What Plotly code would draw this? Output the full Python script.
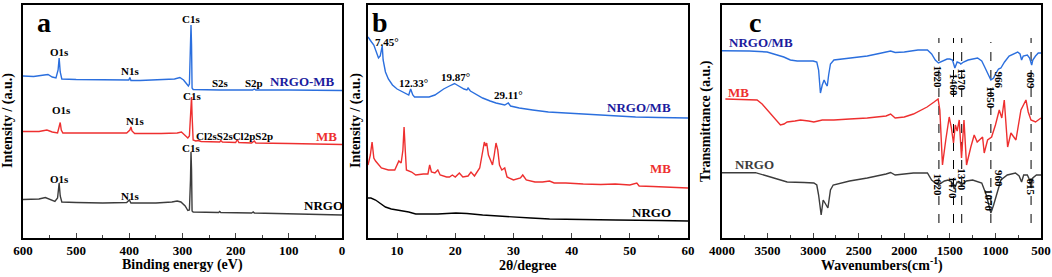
import plotly.graph_objects as go

# ---------------- Panel a: XPS survey ----------------
xps_ev_nrgomb = [600, 580, 560, 553, 545, 538, 534, 532, 530, 527, 500, 450, 410, 401, 399, 397, 380, 340, 315, 305, 298, 292, 289, 287, 285, 284, 283, 282, 280, 250, 230, 200, 168, 165, 162, 100, 0]
xps_int_nrgomb = [162, 161.5, 163, 163.5, 161, 160, 168, 180, 166, 159, 158.5, 158, 157.5, 158, 160.5, 157.5, 157.5, 158, 159, 160.5, 158, 154, 152, 154, 188, 213, 193, 150, 148.5, 148, 148, 148, 148, 149, 148, 148, 147.5]

xps_ev_mb = [600, 570, 555, 545, 535, 531, 530, 528, 525, 500, 450, 405, 399, 397, 395, 390, 340, 310, 302, 295, 290, 287, 285, 283, 282, 280, 275, 270, 265, 230, 228, 225, 200, 197, 194, 170, 165, 162, 100, 50, 0]
xps_int_mb = [106.5, 106.5, 108, 106, 105, 112, 115.5, 108, 105, 105, 105, 105, 108, 111, 107, 104.5, 104.5, 105, 106, 103, 100, 102, 128, 141, 123, 98, 97, 97.5, 96.5, 96, 97.5, 96, 95.5, 98.5, 95.5, 95, 97, 95, 94.5, 94, 93.5]

xps_ev_nrgo = [600, 570, 558, 550, 540, 535, 532, 530, 527, 500, 450, 405, 400, 397, 350, 320, 310, 303, 295, 290, 287, 285, 284, 283, 282, 280, 250, 232, 230, 228, 170, 167, 165, 100, 50, 0]
xps_int_nrgo = [38.5, 39, 40.5, 39, 36.5, 40, 55, 42, 36, 35.5, 35, 35.5, 38, 35, 35, 36, 37, 36, 32, 27.5, 28, 58, 86, 68, 27, 26, 25.5, 25.5, 26.5, 25.5, 25, 26, 25, 24, 23.5, 23]

xps_ticks = [600, 500, 400, 300, 200, 100, 0]

# ---------------- Panel b: XRD ----------------
xrd_deg_nrgomb = [5.0, 5.3, 5.6, 6.0, 6.4, 6.8, 7.1, 7.45, 7.6, 8.0, 8.5, 9.2, 10.0, 10.6, 11.5, 12.0, 12.33, 12.7, 13.0, 14.0, 15.5, 16.5, 17.2, 18.0, 19.0, 19.87, 20.3, 20.8, 21.5, 22.0, 22.2, 22.6, 23.5, 24.7, 26.0, 27.0, 28.5, 29.11, 29.5, 31, 33.3, 36, 39, 42, 45, 48, 51, 55, 60]
xrd_int_nrgomb = [201, 198, 196, 193, 186, 180, 182, 192, 178, 166, 159, 153, 149, 147, 144, 143, 149, 143, 141, 141, 141, 143, 146, 149, 152, 154.5, 153, 151, 149, 148, 150, 147, 144, 140, 137, 135, 133, 135, 132, 130, 128, 126, 125, 124, 123, 122, 121, 120.5, 120]

xrd_deg_mb = [5.0, 5.4, 5.7, 6.0, 6.3, 6.6, 7.3, 8.5, 9.6, 10.3, 10.7, 11.0, 11.2, 11.4, 11.6, 12.5, 13.2, 14.5, 15.3, 15.6, 15.9, 16.5, 17.0, 17.4, 18.5, 19.0, 19.5, 20.0, 20.7, 21.3, 22.2, 22.7, 23.3, 24.2, 24.8, 25.0, 25.2, 25.4, 25.7, 26.0, 26.4, 26.7, 27.0, 27.3, 27.6, 28.0, 28.5, 28.9, 30, 31.2, 31.6, 32.2, 33.7, 35, 36.2, 37, 39, 42, 45, 47.5, 50, 51.2, 51.6, 54, 57, 60]
xrd_int_mb = [73, 83, 96, 80, 77, 75, 70, 68, 68, 77, 75, 88, 111, 88, 68, 66, 63, 64, 64, 73, 66, 65, 68, 63, 61, 61, 63, 61, 65, 61, 62, 66, 62, 70, 88, 96, 92, 95, 83, 78, 73, 83, 95, 88, 73, 68, 70, 61, 58, 60, 63, 58, 56, 56, 57, 55, 55, 54, 53.5, 54, 53, 55, 52, 51.5, 51, 50]

xrd_deg_nrgo = [5.0, 5.5, 6.3, 7, 8.0, 9, 10.3, 12, 13.2, 15, 17, 20.1, 22, 24.7, 27, 30.4, 33, 36.2, 40, 47.6, 55, 60]
xrd_int_nrgo = [40, 40, 38, 35, 31, 29, 28, 26, 24, 24, 24, 25, 24.5, 23, 22, 21, 20, 19, 18.5, 18, 17.5, 17]

xrd_ticks = [10, 20, 30, 40, 50, 60]

# ---------------- Panel c: FTIR ----------------
ir_wn_nrgomb = [4000, 3700, 3505, 3420, 3322, 3250, 3175, 3000, 2960, 2940, 2920, 2900, 2880, 2860, 2845, 2830, 2810, 2772, 2600, 2406, 2250, 2160, 2150, 2100, 2000, 1850, 1746, 1700, 1660, 1625, 1580, 1530, 1500, 1471, 1445, 1420, 1390, 1380, 1350, 1300, 1196, 1150, 1123, 1080, 1050, 1020, 1000, 966, 940, 900, 850, 756, 730, 713, 695, 650, 625, 602, 590, 560, 530, 500]
ir_tr_nrgomb = [187.3, 187, 186, 184, 181, 178, 177, 177, 176, 168, 145, 153, 158, 154, 152, 163, 174, 178, 180, 182, 185, 186.5, 187, 185.5, 186, 188, 188, 184, 178, 175, 177, 179, 179, 178, 170, 176, 175, 174, 176, 178, 180, 177, 172, 163, 158, 160, 164, 169, 170, 176, 182, 186, 184, 178, 182, 183, 180, 173, 178, 182, 185, 185]

ir_wn_mb = [3963, 3700, 3615, 3560, 3505, 3420, 3359, 3320, 3285, 3200, 3139, 3050, 2992, 2900, 2772, 2600, 2406, 2200, 2150, 2100, 2000, 1900, 1856, 1750, 1673, 1629, 1610, 1581, 1545, 1507, 1485, 1460, 1440, 1420, 1397, 1372, 1345, 1317, 1270, 1233, 1200, 1141, 1123, 1086, 1042, 1000, 958, 930, 903, 866, 830, 775, 720, 665, 640, 610, 560, 530, 500]
ir_tr_mb = [139, 138, 138, 134, 128, 119, 113, 114, 116, 117, 118, 117, 116, 118, 118, 119, 120, 122, 124, 120, 121, 124, 126, 131, 136, 139, 128, 73, 98, 121, 111, 95, 113, 107, 118, 80, 118, 73, 91, 103, 96, 101, 85, 98, 101, 113, 128, 120, 138, 91, 105, 98, 128, 138, 126, 118, 116, 118, 120]

ir_wn_nrgo = [4000, 3633, 3505, 3400, 3285, 3100, 2992, 2960, 2940, 2912, 2890, 2870, 2838, 2810, 2780, 2600, 2406, 2200, 2150, 2100, 1900, 1746, 1700, 1660, 1625, 1560, 1520, 1480, 1452, 1420, 1390, 1370, 1320, 1250, 1150, 1100, 1060, 1050, 1020, 990, 940, 870, 780, 740, 713, 690, 650, 625, 610, 590, 550, 500]
ir_tr_nrgo = [65.3, 65.3, 62, 59, 56, 55.5, 55, 53, 43, 23, 38, 35, 30, 48, 53, 57, 60, 64, 65.5, 63, 65, 65, 58, 55, 53, 57, 58, 56, 49, 56, 55, 53, 57, 58, 55, 43, 28, 25, 33, 43, 58, 63, 65, 62, 56, 63, 63, 58, 50, 60, 63, 63]

ir_ticks = [4000, 3500, 3000, 2500, 2000, 1500, 1000, 500]
ir_marker_wn = [1620, 1460, 1370, 1050, 609]
ir_marker_top = [200, 200, 200, 196, 200]
ir_marker_bottom = 15
ir_labels_top = ["1620", "1460", "1370", "1050", "966", "609"]
ir_labels_top_wn = [1625, 1460, 1370, 1050, 966, 609]
ir_labels_top_y = [161, 153, 158, 140, 158, 158]
ir_labels_bot = ["1620", "1470", "1370", "1070", "960", "615"]
ir_labels_bot_wn = [1625, 1470, 1370, 1070, 960, 615]
ir_labels_bot_y = [53, 50, 58, 38, 60, 51]

BLUE = "#2b6fde"
NAVY = "#1c1c9e"
RED = "#ee2f2f"
GREY = "#3c3c3c"
FONT = "Liberation Serif"

fig = go.Figure()

def line(x, y, color, xa, ya, w=1.4):
    fig.add_trace(go.Scatter(x=x, y=y, mode="lines", line=dict(color=color, width=w),
                             xaxis=xa, yaxis=ya, showlegend=False, hoverinfo="skip"))

line(xps_ev_nrgomb, xps_int_nrgomb, BLUE, "x", "y")
line(xps_ev_mb, xps_int_mb, RED, "x", "y")
line(xps_ev_nrgo, xps_int_nrgo, GREY, "x", "y")

line(xrd_deg_nrgomb, xrd_int_nrgomb, BLUE, "x2", "y2")
line(xrd_deg_mb, xrd_int_mb, RED, "x2", "y2")
line(xrd_deg_nrgo, xrd_int_nrgo, "#000000", "x2", "y2")

for wn, top in zip(ir_marker_wn, ir_marker_top):
    fig.add_trace(go.Scatter(x=[wn, wn], y=[ir_marker_bottom, top], mode="lines",
                             line=dict(color="#000000", width=1, dash="dash"),
                             xaxis="x3", yaxis="y3", showlegend=False, hoverinfo="skip"))
line(ir_wn_nrgomb, ir_tr_nrgomb, BLUE, "x3", "y3")
line(ir_wn_mb, ir_tr_mb, RED, "x3", "y3")
line(ir_wn_nrgo, ir_tr_nrgo, GREY, "x3", "y3")

doms = [[23/1052, 342/1052], [368/1052, 688/1052], [722/1052, 1041/1052]]
ydom = [1 - 238/277, 1 - 5/277]

axis_common = dict(showline=True, linecolor="black", linewidth=1.5, mirror=True,
                   showgrid=False, zeroline=False, automargin=False)
tickfont = dict(family=FONT, size=13, color="black", weight="bold")

fig.update_layout(
    template="none",
    width=1052, height=277, margin=dict(l=0, r=0, t=0, b=0, autoexpand=False),
    paper_bgcolor="white", plot_bgcolor="white",
    xaxis=dict(domain=doms[0], range=[600, 0], tickvals=xps_ticks, ticks="inside", ticklen=5,
               minor=dict(ticks="inside", ticklen=3, dtick=50), tickfont=tickfont, anchor="y", **axis_common),
    yaxis=dict(domain=ydom, range=[0, 233], showticklabels=False, ticks="", anchor="x", **axis_common),
    xaxis2=dict(domain=doms[1], range=[5, 60], tickvals=xrd_ticks, ticks="inside", ticklen=5,
                minor=dict(ticks="inside", ticklen=3, dtick=5), tickfont=tickfont, anchor="y2", **axis_common),
    yaxis2=dict(domain=ydom, range=[0, 233], showticklabels=False, ticks="", anchor="x2", **axis_common),
    xaxis3=dict(domain=doms[2], range=[4000, 500], tickvals=ir_ticks, ticks="inside", ticklen=5,
                minor=dict(ticks="inside", ticklen=3, dtick=250), tickfont=tickfont, anchor="y3", **axis_common),
    yaxis3=dict(domain=ydom, range=[0, 233], showticklabels=False, ticks="", anchor="x3", **axis_common),
)

def ann(text, x, y, xref, yref, size=12, color="black", angle=0, xanchor="center", yanchor="middle"):
    fig.add_annotation(text=text, x=x, y=y, xref=xref, yref=yref, showarrow=False,
                       textangle=angle, xanchor=xanchor, yanchor=yanchor,
                       font=dict(family=FONT, size=size, color=color, weight="bold"))

# axis titles
ann("Binding energy (eV)", (doms[0][0] + doms[0][1]) / 2, 1 - 265/277, "paper", "paper", size=14)
ann("2θ/degree", (doms[1][0] + doms[1][1]) / 2, 1 - 265/277, "paper", "paper", size=14)
ann("Wavenumbers(cm<sup>-1</sup>)", (doms[2][0] + doms[2][1]) / 2, 1 - 264/277, "paper", "paper", size=14)
ann("Intensity / (a.u.)", 8/1052, 1 - 121/277, "paper", "paper", size=14, angle=-90)
ann("Intensity / (a.u.)", 356/1052, 1 - 121/277, "paper", "paper", size=14, angle=-90)
ann("Transmittance (a.u.)", 706/1052, 1 - 121/277, "paper", "paper", size=14, angle=-90)

# panel letters
ann("a", 560, 216, "x", "y", size=28)
ann("b", 7.0, 216, "x2", "y2", size=28)
ann("c", 3640, 216, "x3", "y3", size=28)

# panel a labels
for txt, x, y in [("O1s", 532, 186), ("N1s", 399, 167), ("C1s", 284, 219), ("S2s", 228, 155), ("S2p", 165, 155)]:
    ann(txt, x, y, "x", "y", size=11)
ann("NRGO-MB", 75, 157, "x", "y", size=13, color=NAVY)
for txt, x, y in [("O1s", 528, 128), ("N1s", 390, 117), ("C1s", 283, 142)]:
    ann(txt, x, y, "x", "y", size=11)
ann("Cl2sS2sCl2pS2p", 278, 102, "x", "y", size=11, xanchor="left")
ann("MB", 30, 102, "x", "y", size=13, color=RED)
for txt, x, y in [("O1s", 532, 59), ("N1s", 399, 42), ("C1s", 284, 90)]:
    ann(txt, x, y, "x", "y", size=11)
ann("NRGO", 34, 33, "x", "y", size=13)

# panel b labels
ann("7.45°", 8.2, 196, "x2", "y2", size=11)
ann("12.33°", 12.8, 155, "x2", "y2", size=11)
ann("19.87°", 20.0, 161, "x2", "y2", size=11)
ann("29.11°", 29.2, 143, "x2", "y2", size=11)
ann("NRGO/MB", 51.5, 131, "x2", "y2", size=13, color=NAVY)
ann("MB", 55.3, 70, "x2", "y2", size=13, color=RED)
ann("NRGO", 53.7, 26, "x2", "y2", size=13)

# panel c labels
ann("NRGO/MB", 3570, 196, "x3", "y3", size=13, color=NAVY)
ann("MB", 3820, 146, "x3", "y3", size=13, color=RED)
ann("NRGO", 3640, 74, "x3", "y3", size=13, color=GREY)
for txt, x, y in zip(ir_labels_top, ir_labels_top_wn, ir_labels_top_y):
    ann(txt, x, y, "x3", "y3", size=11, angle=90)
for txt, x, y in zip(ir_labels_bot, ir_labels_bot_wn, ir_labels_bot_y):
    ann(txt, x, y, "x3", "y3", size=11, angle=90)

fig.write_html("out.html", config={"displayModeBar": False},
               post_script="document.body.style.margin='0';document.body.style.overflow='hidden';")
